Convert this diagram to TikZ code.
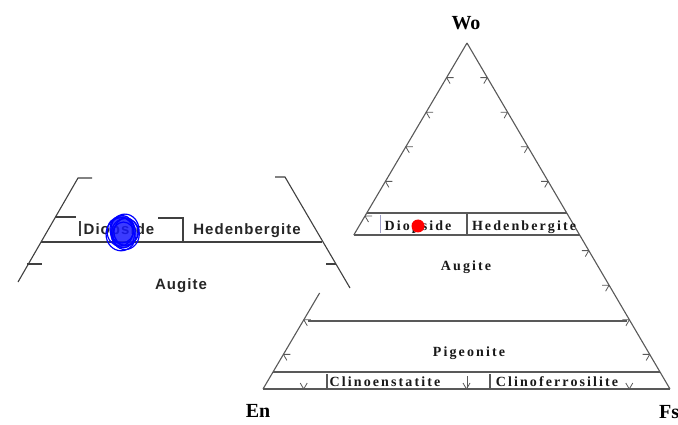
\documentclass[tikz,border=0pt]{standalone}
\usepackage{fontspec}
\setmainfont{Liberation Serif}
\newfontfamily\serifsp[LetterSpace=15]{Liberation Serif}
\newfontfamily\sanssp[LetterSpace=7]{Liberation Sans}
\usetikzlibrary{calc}
\tikzset{
  edge/.style={draw=black!65, line width=1.1pt},
  tick/.style={draw=black!65, line width=0.8pt},
  inset/.style={draw=black!75, line width=1.1pt},
  lbl/.style={inner sep=0pt, anchor=base, font=\serifsp\bfseries\fontsize{14}{14}\selectfont, text=black!90},
  slbl/.style={inner sep=0pt, anchor=base, font=\sanssp\bfseries\fontsize{15}{15}\selectfont, text=black!85},
  apex/.style={inner sep=0pt, anchor=base, font=\bfseries\fontsize{20}{20}\selectfont}
}
\begin{document}
\begin{tikzpicture}[x=1pt,y=-1pt]
\useasboundingbox (0,0) rectangle (678,425);
\fill[white] (0,0) rectangle (678,425);

% ---------------- main ternary diagram ----------------
\coordinate (Wo) at (467,43);
\coordinate (En) at (263,389);
\coordinate (Fs) at (670,389);

% sides (left side partly hidden behind the inset)
\draw[edge] (Wo) -- ($(Wo)!0.555!(En)$);
\draw[edge] ($(Wo)!0.7225!(En)$) -- (En);
\draw[edge] (Wo) -- (Fs);
\draw[edge] (En) -- (Fs);

% band Wo50-Wo45
\draw[edge] ($(Wo)!0.4913!(En)$) -- ($(Wo)!0.4913!(Fs)$);
\draw[edge] ($(Wo)!0.555!(En)$) -- ($(Wo)!0.555!(Fs)$);
\draw[edge] (467,213) -- (467,235);
\draw[draw=blue!25!gray!60, line width=1pt] (380,215) -- (380,233);

% pigeonite line
\draw[edge] ($(Wo)!0.8035!(En)+(5,0)$) -- ($(Wo)!0.8035!(Fs)+(-3,0)$);

% bottom band
\draw[edge] ($(Wo)!0.951!(En)$) -- ($(Wo)!0.951!(Fs)$);
\draw[edge] (327,374) -- (327,388);
\draw[edge] (490,374) -- (490,388);

% side ticks
\foreach \p in {0.1,0.2,0.3,0.4,0.5,0.8,0.9}{
  \draw[tick] ($(Wo)!\p!(En)$) coordinate (tl) -- ++(7,0) (tl) -- ++(3.5,6);
}
\foreach \p in {0.1,0.2,0.3,0.4,0.6,0.7,0.8,0.9}{
  \draw[tick] ($(Wo)!\p!(Fs)$) coordinate (tr) -- ++(-7,0) (tr) -- ++(-3.5,6);
}
\foreach \p in {0.1,0.5,0.9}{
  \draw[tick] ($(En)!\p!(Fs)$) coordinate (tb) -- ++(3.5,-6) (tb) -- ++(-3.5,-6);
}
\draw[tick] (467,376) -- (467,389);

% labels main
\node[apex] (lWo) at (466,30) {Wo};
\node[apex] (lEn) at (258,417) {En};
\node[apex, anchor=base west] (lFs) at (659,418) {Fs};

\node[lbl] (mDi) at (418,230) {Diopside};
\node[lbl] (mHd) at (524,230) {Hedenbergite};
\node[lbl] (mAu) at (466,270) {Augite};
\node[lbl] (mPg) at (469,356) {Pigeonite};
\node[lbl] (mCe) at (385,386) {Clinoenstatite};
\node[lbl] (mCf) at (557,386) {Clinoferrosilite};

\fill[red] (418,226) circle (6.5);

% ---------------- inset (enlarged) ----------------
\draw[inset] (92,178) -- (78,178) -- (18,282);
\draw[inset] (275,177) -- (285,177) -- (350,288);
\draw[inset] (41,242) -- (322,242);
\draw[inset] (55,217) -- (76,217);
\draw[inset] (80,221) -- (80,236);
\draw[inset] (158,218) -- (183,218) -- (183,242);
\draw[inset] (27,264) -- (42,264);
\draw[inset] (326,264) -- (336,264);

\node[slbl] (iDi) at (119,234) {Diopside};
\node[slbl] (iHd) at (247,234) {Hedenbergite};
\node[slbl] (iAu) at (181,289) {Augite};

% blue scribble
\fill[blue!90, opacity=0.85] (123,232) ellipse [x radius=13, y radius=16];
\foreach \a/\r in {0/12,40/14,80/11,130/15,190/13,250/12,310/14}{
  \draw[blue, line width=1.2pt] ($(123,232)+(\a:3)$) ellipse [x radius=\r, y radius={0.9*\r+3}];
}
\end{tikzpicture}
\end{document}
